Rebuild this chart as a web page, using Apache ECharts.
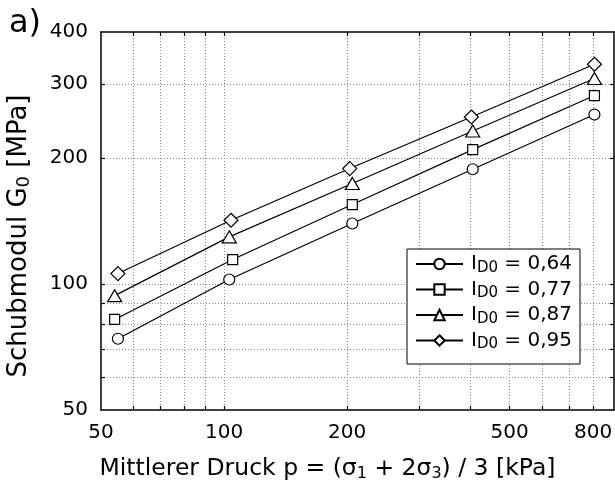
<!DOCTYPE html>
<html>
<head>
<meta charset="utf-8">
<script src="https://cdn.jsdelivr.net/npm/echarts@6/dist/echarts.min.js"></script>
<style>
  html, body { margin: 0; padding: 0; background: #fff; }
  #chart { width: 615px; height: 489px; }
</style>
</head>
<body>
<div id="chart"></div>
<script>
// values
const p064 = [55, 103, 206, 406, 806];
const g064 = [74, 102.5, 139.5, 188, 254];
const p077 = [54, 105, 206, 406, 806];
const g077 = [82.3, 114.4, 154.8, 209.4, 282];
const p087 = [54, 103, 206, 406, 806];
const g087 = [93.8, 129.6, 173.8, 232, 309.6];
const p095 = [55, 104, 203, 403, 806];
const g095 = [105.9, 142, 188.7, 250.6, 335];

const seriesNames = ['0,64', '0,77', '0,87', '0,95'];
const seriesSymbols = ['circle', 'rect', 'triangle', 'diamond'];
const symbolSizes = [11, 10, [14, 12], [14, 14]];

const xTicks = [60, 70, 80, 90, 100, 200, 300, 400, 500, 600, 700, 800];
const xLabels = [50, 100, 200, 500, 800];
const yTicks = [60, 70, 80, 90, 100, 200, 300];
const yLabels = [50, 100, 200, 300, 400];

const FONT = 'DejaVu Sans';
const subStyle = (size, shift) => ({ fontSize: size, padding: [shift, 0, 0, 0], fontFamily: FONT, color: '#000' });

const pairs = (xs, ys) => xs.map((x, i) => [x, ys[i]]);
const seriesData = [pairs(p064, g064), pairs(p077, g077), pairs(p087, g087), pairs(p095, g095)];

const chart = echarts.init(document.getElementById('chart'), null, { renderer: 'canvas' });

const axisBase = {
  type: 'log',
  logBase: 10,
  axisLine: { show: true, onZero: false, lineStyle: { color: '#000', width: 1.5 } },
  axisTick: { show: true, inside: true, length: 4, lineStyle: { color: '#000', width: 1.2 } },
  minorTick: { show: false },
};
const gridLine = { show: true, lineStyle: { color: '#8a8a8a', width: 1, type: [1, 2] } };

chart.setOption({
  animation: false,
  title: {
    text: 'a)',
    left: 4,
    top: 3,
    textStyle: { fontFamily: FONT, fontSize: 32, fontWeight: 'normal', color: '#000' },
  },
  grid: { left: 101, top: 32, right: 1, bottom: 79, outerBoundsMode: 'none', containLabel: false },
  legend: {
    orient: 'vertical',
    left: 407,
    top: 249,
    padding: [5, 8, 12, 8],
    itemGap: 4,
    itemWidth: 47,
    itemHeight: 13,
    borderColor: '#000',
    borderWidth: 1,
    backgroundColor: '#fff',
    borderRadius: 0,
    data: seriesNames,
    formatter: (name) => '{i|I}{s|D0}{a| = ' + name + '}',
    textStyle: {
      rich: {
        i: { fontSize: 20, fontFamily: FONT, color: '#000', padding: [0, 0, 0, 3] },
        a: { fontSize: 20, fontFamily: FONT, color: '#000' },
        s: subStyle(15, 8),
      },
    },
  },
  xAxis: [
    Object.assign({}, axisBase, {
      min: 50,
      max: 900,
      position: 'bottom',
      axisTick: Object.assign({}, axisBase.axisTick, { customValues: xTicks }),
      axisLabel: { customValues: xLabels, fontFamily: FONT, fontSize: 20, color: '#000', margin: 13 },
      splitLine: gridLine,
      name: 'Mittlerer Druck p = (σ{s|1} + 2σ{s|3}) / 3 [kPa]',
      nameLocation: 'middle',
      nameGap: 46,
      nameTextStyle: {
        fontFamily: FONT, fontSize: 23.5, color: '#000', padding: [0, 60, 0, 0],
        rich: { s: subStyle(16, 10) },
      },
    }),
    Object.assign({}, axisBase, {
      min: 50,
      max: 900,
      position: 'top',
      axisTick: Object.assign({}, axisBase.axisTick, { customValues: xTicks }),
      axisLabel: { show: false },
      splitLine: { show: false },
    }),
  ],
  yAxis: [
    Object.assign({}, axisBase, {
      min: 50,
      max: 400,
      position: 'left',
      axisTick: Object.assign({}, axisBase.axisTick, { customValues: yTicks }),
      axisLabel: { customValues: yLabels, fontFamily: FONT, fontSize: 20, color: '#000', margin: 13 },
      splitLine: gridLine,
      name: 'Schubmodul G{s|0} [MPa]',
      nameLocation: 'middle',
      nameGap: 68,
      nameTextStyle: {
        fontFamily: FONT, fontSize: 26, color: '#000', padding: [0, 30, 0, 0],
        rich: { s: subStyle(18, 10) },
      },
    }),
    Object.assign({}, axisBase, {
      min: 50,
      max: 400,
      position: 'right',
      axisTick: Object.assign({}, axisBase.axisTick, { customValues: yTicks }),
      axisLabel: { show: false },
      splitLine: { show: false },
    }),
  ],
  series: seriesNames.map((name, i) => ({
    name,
    type: 'line',
    data: seriesData[i],
    symbol: seriesSymbols[i],
    symbolSize: symbolSizes[i],
    showSymbol: true,
    lineStyle: { color: '#000', width: 1.2 },
    itemStyle: { color: '#fff', borderColor: '#000', borderWidth: 1.2 },
    z: 3,
  })),
});
</script>
</body>
</html>
